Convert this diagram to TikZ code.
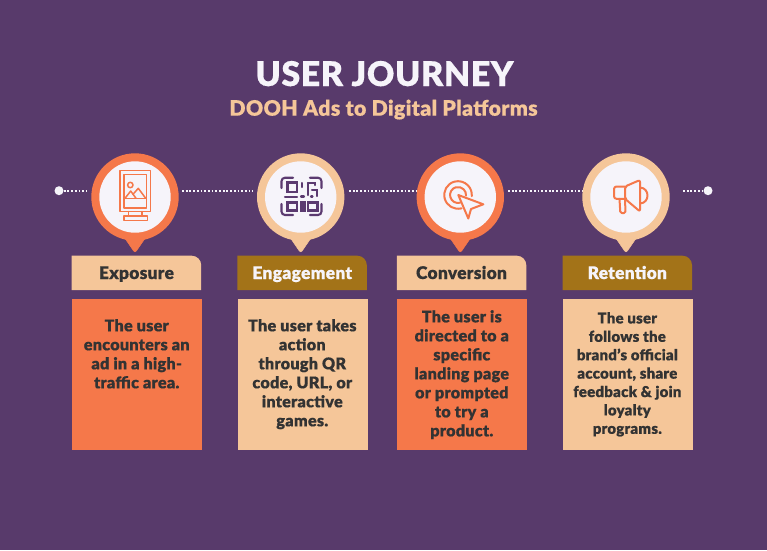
\documentclass[tikz,border=0pt]{standalone}
\usepackage{fontspec}
\setmainfont{Lato}[BoldFont=Lato Black,BoldFeatures={FakeBold=0.35,LetterSpace=1.5}]
\definecolor{bgp}{HTML}{583A6B}
\definecolor{org}{HTML}{F5784A}
\definecolor{pch}{HTML}{F5C699}
\definecolor{brn}{HTML}{A37318}
\definecolor{ink}{HTML}{333333}
\definecolor{wht}{HTML}{F6F4FA}
\definecolor{qrp}{HTML}{5B3A70}
\tikzset{
  x=1pt,y=-1pt,
  dotline/.style={wht,line width=1.8pt,dash pattern=on 1.8pt off 1.9pt},
  enddot/.style={circle,fill=wht,inner sep=0pt,minimum size=9pt},
  ring/.style={circle,inner sep=0pt,minimum size=87.4pt,fill=#1},
  disc/.style={circle,inner sep=0pt,minimum size=71.4pt,fill=wht},
  tipshape/.style={fill=#1,draw=#1,line width=.5pt,rounded corners=2.5pt},
  tabtext/.style={font=\bfseries\fontsize{17.4}{18}\selectfont,text=#1,inner sep=0pt,anchor=base},
  bodybox/.style={rectangle,inner sep=0pt,minimum width=130pt,minimum height=151.5pt,anchor=north west,fill=#1},
  bodytext/.style={font=\bfseries\fontsize{16.2}{#1}\selectfont,text=ink,align=center,anchor=north,inner sep=0pt},
  iconO/.style={draw=org,line width=1.5pt,line join=round,line cap=round},
  iconT/.style={draw=org,line width=2pt,line join=round,line cap=round},
  iconQ/.style={draw=qrp,line width=2.1pt,line cap=round},
}
\newcommand{\tabshape}[2]{% x, fill
  \path[fill=#2] (#1,255.7) -- (#1+120,255.7) arc[start angle=-90,end angle=0,radius=9.5] -- (#1+129.5,290) -- (#1,290) -- cycle;
}
\newcommand{\pin}[3]{% name, cx, colour
  \path[tipshape=#3] (#2-13,234) -- (#2,253) -- (#2+13,234) -- cycle;
  \node[ring=#3] (#1) at (#2,197) {};
  \node[disc] (#1d) at (#2,197) {};
}
\begin{document}
\begin{tikzpicture}
\useasboundingbox[fill=bgp] (0,0) rectangle (767,550);

% titles
\node[font=\bfseries\fontsize{34}{36}\selectfont,text=wht,inner sep=0pt,anchor=base] (title) at (384.5,86) {USER JOURNEY};
\node[font=\bfseries\fontsize{21.3}{24}\selectfont,text=pch,inner sep=0pt,anchor=base] (subtitle) at (383.5,115.7) {DOOH Ads to Digital Platforms};

% timeline
\node[enddot] (startdot) at (59,190.7) {};
\node[enddot] (enddot) at (708,190.7) {};
\coordinate (a1) at (86,190.7);
\coordinate (b1) at (182,190.7);
\coordinate (a2) at (253,190.7);
\coordinate (b2) at (349,190.7);
\coordinate (a3) at (416,190.7);
\coordinate (b3) at (508,190.7);
\coordinate (a4) at (583,190.7);
\coordinate (b4) at (683,190.7);
\draw[dotline] (startdot) -- (a1);
\draw[dotline] (b1) -- (a2);
\draw[dotline] (b2) -- (a3);
\draw[dotline] (b3) -- (a4);
\draw[dotline] (b4) -- (enddot);

% pins
\pin{p1}{135}{org}
\pin{p2}{300.7}{pch}
\pin{p3}{460.3}{org}
\pin{p4}{626}{pch}

% icon 1: standee
\draw[iconO] (120,170.7) rectangle (150.3,211.7);
\draw[iconO] (124,174.3) rectangle (146.5,208);
\draw[iconO] (128.5,211.7) -- (128.5,216);
\draw[iconO] (142,211.7) -- (142,216);
\draw[iconO] (124,216) rectangle (147.3,220.7);
\draw[iconO] (130.3,185) circle[radius=2.7];
\draw[iconO] (125,198.3) -- (145.7,198.3);
\draw[iconO] (125,198.3) -- (130.7,191) -- (136,198.3);
\draw[iconO] (133,194.3) -- (138.3,188.3) -- (145.7,198.3);

% icon 2: QR code
\draw[iconQ] (293,177.7) -- (285,177.7) arc[start angle=-90,end angle=-180,radius=3.5] -- (281.5,188);
\draw[iconQ] (310,177.7) -- (318,177.7) arc[start angle=-90,end angle=0,radius=3.5] -- (321.5,188);
\draw[iconQ] (281.5,204) -- (281.5,211.5) arc[start angle=180,end angle=90,radius=3.5] -- (293,215);
\draw[iconQ] (321.5,204) -- (321.5,211.5) arc[start angle=0,end angle=90,radius=3.5] -- (310,215);
\draw[iconQ] (287.5,182.5) rectangle (297,192);
\draw[iconQ] (287.5,202.5) rectangle (297,210.5);
\draw[iconQ] (308,202.5) rectangle (317.5,210.5);
\draw[iconQ] (301.5,202.5) rectangle (304.5,210.5);
\draw[iconQ] (285,197) -- (297,197);
\draw[iconQ] (302,183) -- (302,187);
\draw[iconQ] (308,183) -- (315,183) -- (315,185);
\draw[iconQ] (308,183) -- (308,195);
\draw[iconQ] (312,190) -- (317,190) -- (317,196);
\draw[iconQ] (301,196.5) -- (304,196.5);
\draw[iconQ] (311,196.5) -- (312.5,196.5);

% icon 3: click cursor
\draw[iconT] (461.6,208.3) arc[start angle=75,end angle=365,radius=13.8];
\draw[iconT] (460.1,202.7) arc[start angle=75,end angle=365,radius=8];
\path[fill=wht] (458.3,195) -- (483.3,204.3) -- (471,209) -- (468.3,218.5) -- cycle;
\draw[iconT] (458.3,195) -- (483.3,204.3) -- (471,209) -- (468.3,218.5) -- cycle;

% icon 4: megaphone
\draw[iconT,rounded corners=2.5pt] (625,186.5) -- (614,186.5) -- (614,198.8) -- (625,198.8);
\draw[iconT,rounded corners=2pt] (625,186.5) -- (640,180) -- (640,211.5) -- (625,198.8) -- cycle;
\draw[iconT] (640,187.5) .. controls (650,188) and (650,203) .. (640,203.5);
\draw[iconT,rounded corners=1.5pt] (619.5,198.8) -- (620.3,213) -- (625.5,213) -- (625,198.8);

% tabs
\tabshape{71.7}{pch}
\tabshape{237.3}{brn}
\tabshape{396.8}{pch}
\tabshape{562.5}{brn}
\node[tabtext=ink] (t1) at (136.5,279) {Exposure};
\node[tabtext=wht] (t2) at (302.3,279) {Engagement};
\node[tabtext=ink] (t3) at (461.5,279) {Conversion};
\node[tabtext=wht] (t4) at (627.3,279) {Retention};

% bodies
\node[bodybox=org] (b1box) at (71.7,298.5) {};
\node[bodybox=pch] (b2box) at (237.3,298.5) {};
\node[bodybox=org] (b3box) at (396.8,298.5) {};
\node[bodybox=pch] (b4box) at (562.3,298.5) {};
\node[bodytext=19] (b1txt) at (136.7,319) {The user\\encounters an\\ad in a high-\\traffic area.};
\node[bodytext=19] (b2txt) at (302.3,319) {The user takes\\action\\through QR\\code, URL, or\\interactive\\games.};
\node[bodytext=19] (b3txt) at (461.8,310) {The user is\\directed to a\\specific\\landing page\\or prompted\\to try a\\product.};
\node[bodytext=18.4,font=\bfseries\fontsize{15}{18.4}\selectfont] (b4txt) at (627.3,312) {The user\\follows the\\brand’s official\\account, share\\feedback \& join\\loyalty\\programs.};
\end{tikzpicture}
\end{document}
